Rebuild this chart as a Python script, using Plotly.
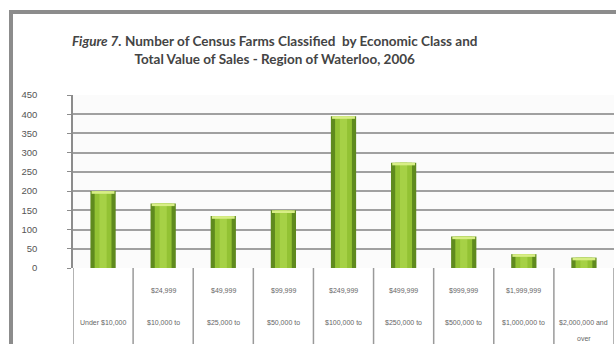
import plotly.graph_objects as go

# Census farms by total value of sales, Region of Waterloo, 2006
classes = ["Under $10,000", "$10,000 to $24,999", "$25,000 to $49,999",
           "$50,000 to $99,999", "$100,000 to $249,999", "$250,000 to $499,999",
           "$500,000 to $999,999", "$1,000,000 to $1,999,999", "$2,000,000 and over"]
farms = [200, 168, 135, 150, 395, 274, 82, 36, 27]

# category label rows as laid out under the axis
label_upper = ["", "$24,999", "$49,999", "$99,999", "$249,999", "$499,999",
               "$999,999", "$1,999,999", ""]
label_lower = ["Under $10,000", "$10,000 to", "$25,000 to", "$50,000 to", "$100,000 to",
               "$250,000 to", "$500,000 to", "$1,000,000 to", "$2,000,000 and"]
label_extra = ["", "", "", "", "", "", "", "", "over"]

y_ticks = [0, 50, 100, 150, 200, 250, 300, 350, 400, 450]

W, H = 616, 344
L, R, T, B = 73, 2, 95, 76
pw, ph = W - L - R, H - T - B

def px_x(px):
    return (px - L) / pw

def px_y(py):
    return (H - B - py) / ph

n = len(classes)
xs = list(range(n))
cap = 7

fig = go.Figure()
# outer cylinder body (dark edges)
fig.add_trace(go.Bar(x=xs, y=farms, width=0.42, marker=dict(color="#5f8a1e", line=dict(width=0)),
                     hoverinfo="skip", showlegend=False))
# lighter core
fig.add_trace(go.Bar(x=xs, y=farms, width=0.28, marker=dict(color="#93c234", line=dict(width=0)),
                     name="Farms", showlegend=False))
# highlight stripe
fig.add_trace(go.Bar(x=xs, y=farms, width=0.12, marker=dict(color="#a6d146", line=dict(width=0)),
                     hoverinfo="skip", showlegend=False))
# bright top cap
fig.add_trace(go.Bar(x=xs, y=[cap] * n, base=[v - cap for v in farms], width=0.38,
                     marker=dict(color="#d8ee86", line=dict(width=0)),
                     hoverinfo="skip", showlegend=False))

shapes = []
# category dividers below the axis
for i in range(n + 1):
    shapes.append(dict(type="line", xref="x", yref="paper", x0=i - 0.5, x1=i - 0.5,
                       y0=0, y1=px_y(H), line=dict(color="#9a9a9a", width=1.5)))
# frame of the chart area
shapes.append(dict(type="line", xref="paper", yref="paper", x0=px_x(9), x1=px_x(W + 5),
                   y0=px_y(12), y1=px_y(12), line=dict(color="#8c8c8c", width=4)))
shapes.append(dict(type="line", xref="paper", yref="paper", x0=px_x(11), x1=px_x(11),
                   y0=px_y(10), y1=px_y(H + 5), line=dict(color="#8c8c8c", width=4)))

annotations = []
lab_font = dict(family="Liberation Sans Narrow, Liberation Sans, sans-serif", size=7, color="#666666")
for i in range(n):
    for txt, py in ((label_upper[i], 290), (label_lower[i], 322), (label_extra[i], 338)):
        if txt:
            annotations.append(dict(x=i, y=px_y(py), xref="x", yref="paper", text=txt,
                                    showarrow=False, font=lab_font, xanchor="center",
                                    yanchor="middle"))

annotations.append(dict(
    x=px_x(274), y=px_y(50), xref="paper", yref="paper", showarrow=False,
    text="<i>Figure 7.</i> Number of Census Farms Classified  by Economic Class and<br>"
         "Total Value of Sales - Region of Waterloo, 2006",
    font=dict(family="Lato, sans-serif", size=13.5, color="#444444", weight="bold"),
    xanchor="center", yanchor="middle", align="center"))

fig.update_layout(
    width=W, height=H,
    margin=dict(l=L, r=R, t=T, b=B, pad=0),
    paper_bgcolor="white",
    plot_bgcolor="#fbfbfb",
    barmode="overlay",
    bargap=0.6,
    shapes=shapes,
    annotations=annotations,
    xaxis=dict(range=[-0.5, n - 0.5], showticklabels=False, showgrid=False,
               zeroline=False, showline=False, fixedrange=True),
    yaxis=dict(range=[0, 450], tickvals=y_ticks, ticktext=[str(v) for v in y_ticks],
               showgrid=True, gridcolor="#a0a0a0", gridwidth=1.5,
               zeroline=False, showline=True, linecolor="#8c8c8c", linewidth=1.5,
               ticks="outside", ticklen=4, tickcolor="#8c8c8c",
               ticklabelstandoff=28,
               tickfont=dict(family="Liberation Sans Narrow, Liberation Sans, sans-serif",
                             size=9.5, color="#555555")),
    font=dict(family="Liberation Sans, sans-serif"),
)

fig.write_html("out.html")
